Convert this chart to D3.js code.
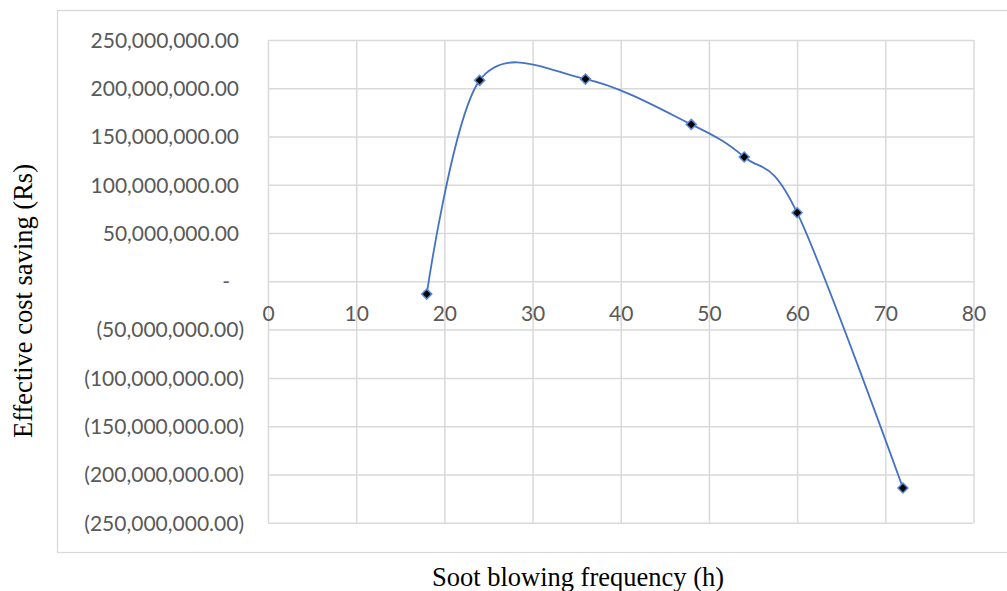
<!DOCTYPE html>
<html>
<head>
<meta charset="utf-8">
<script src="https://cdn.jsdelivr.net/npm/d3@7"></script>
<style>
  body { margin: 0; background: #fff; }
  .tick text { font-family: Lato, "Open Sans", sans-serif; fill: #595959; }
</style>
</head>
<body>
<div id="chart"></div>
<script>
// soot blowing frequency (h) vs effective cost saving (Rs)
const frequency = [18, 24, 36, 48, 54, 60, 72];
const saving = [-13200000, 208200000, 209500000, 162600000, 128800000, 71100000, -214100000];
const xTicks = [0, 10, 20, 30, 40, 50, 60, 70, 80];
const yTicks = [-250000000, -200000000, -150000000, -100000000, -50000000, 0,
                50000000, 100000000, 150000000, 200000000, 250000000];

const W = 1007, H = 591;
const plot = {left: 268, top: 40, right: 973.5, bottom: 522.7};

const svg = d3.select("#chart")
    .append("svg")
    .attr("width", W)
    .attr("height", H);

// outer chart frame
svg.append("rect")
    .attr("x", 57.5)
    .attr("y", 10.5)
    .attr("width", 1000)
    .attr("height", 542)
    .attr("fill", "none")
    .attr("stroke", "#d9d9d9")
    .attr("stroke-width", 1.3);

const xScale = d3.scaleLinear()
    .domain([0, 80])
    .range([plot.left, plot.right]);

const yScale = d3.scaleLinear()
    .domain([-250000000, 250000000])
    .range([plot.bottom, plot.top]);

// gridlines
svg.append("g")
    .attr("transform", `translate(0,${plot.bottom})`)
    .call(d3.axisBottom(xScale).tickValues(xTicks).tickSize(-(plot.bottom - plot.top)).tickFormat(""))
    .call(g => g.select(".domain").remove())
    .call(g => g.selectAll("line").attr("stroke", "#d9d9d9").attr("stroke-width", 1.5));

svg.append("g")
    .attr("transform", `translate(${plot.left},0)`)
    .call(d3.axisLeft(yScale).tickValues(yTicks).tickSize(-(plot.right - plot.left)).tickFormat(""))
    .call(g => g.select(".domain").remove())
    .call(g => g.selectAll("line").attr("stroke", "#d9d9d9").attr("stroke-width", 1.5));

// accounting style labels
const num = d3.format(",.2f");
const fmt = v => v === 0 ? "-" : (v < 0 ? "(" + num(-v) + ")" : num(v));

svg.append("g")
    .attr("transform", "translate(244,0)")
    .call(d3.axisLeft(yScale).tickValues(yTicks).tickSize(0).tickPadding(0).tickFormat(fmt))
    .call(g => g.select(".domain").remove())
    .call(g => g.selectAll("text")
        .style("font-size", "21px")
        .attr("dy", "0.35em")
        .attr("x", d => d > 0 ? -5 : (d === 0 ? -14 : 0)));

svg.append("g")
    .attr("transform", `translate(0,${yScale(0)})`)
    .call(d3.axisBottom(xScale).tickValues(xTicks).tickSize(0).tickPadding(25))
    .call(g => g.select(".domain").remove())
    .call(g => g.selectAll("text").style("font-size", "21px"));

// smoothed series line
const pts = frequency.map((f, i) => [f, saving[i]]);

svg.append("path")
    .datum(pts)
    .attr("fill", "none")
    .attr("stroke", "#4472C4")
    .attr("stroke-width", 1.8)
    .attr("d", d3.line()
        .x(d => xScale(d[0]))
        .y(d => yScale(d[1]))
        .curve(d3.curveCardinal.tension(0)));

svg.selectAll(".marker")
    .data(pts)
    .join("path")
    .attr("class", "marker")
    .attr("d", d3.symbol(d3.symbolSquare, 50))
    .attr("transform", d => `translate(${xScale(d[0])},${yScale(d[1])}) rotate(45)`)
    .attr("fill", "#000")
    .attr("stroke", "#5b8bd6")
    .attr("stroke-width", 1.5);

// axis titles
svg.append("text")
    .attr("x", 578)
    .attr("y", 586)
    .attr("text-anchor", "middle")
    .style("font-family", "'Liberation Serif', 'Times New Roman', serif")
    .style("font-size", "26.5px")
    .text("Soot blowing frequency (h)");

svg.append("text")
    .attr("transform", "translate(32,301) rotate(-90)")
    .attr("text-anchor", "middle")
    .style("font-family", "'Liberation Serif', 'Times New Roman', serif")
    .style("font-size", "26.5px")
    .text("Effective cost saving (Rs)");
</script>
</body>
</html>
